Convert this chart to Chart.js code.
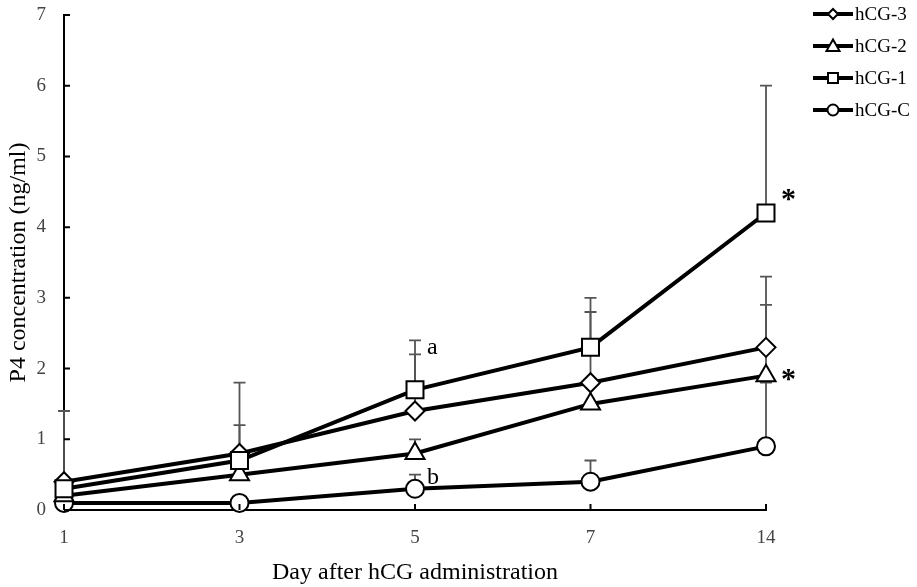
<!DOCTYPE html>
<html>
<head>
<meta charset="utf-8">
<script src="https://cdn.jsdelivr.net/npm/chart.js@4.4.1/dist/chart.umd.min.js"></script>
<style>
    html, body { margin: 0; padding: 0; background: #fff; }
    #wrap { width: 917px; height: 587px; }
</style>
</head>
<body>
<div id="wrap"><canvas id="chart"></canvas></div>
<script>
// Data
const days = ['1', '3', '5', '7', '14'];
const hcg3 = [0.4, 0.8, 1.4, 1.8, 2.3];
const hcg2 = [0.2, 0.5, 0.8, 1.5, 1.9];
const hcg1 = [0.3, 0.7, 1.7, 2.3, 4.2];
const hcgC = [0.1, 0.1, 0.3, 0.4, 0.9];

// top of each error bar (null = none visible)
const hcg3Err = [1.4, 1.2, 2.2, 2.8, 3.3];
const hcg2Err = [null, null, 1.0, null, 2.9];
const hcg1Err = [null, 1.8, 2.4, 3.0, 6.0];
const hcgCErr = [null, null, 0.5, 0.7, 1.8];

const yTicks = [0, 1, 2, 3, 4, 5, 6, 7];

// significance letters
const noteText = ['a', 'b', '*', '*'];
const noteDay = ['5', '5', '14', '14'];
const noteValue = [2.3, 0.45, 4.38, 1.84];

const serif = "'Liberation Serif', 'Times New Roman', serif";

function series(label, data, err, style, radius, order) {
    return {
        label: label,
        data: data,
        err: err,
        order: order,
        borderColor: '#000',
        borderWidth: 4,
        pointStyle: style,
        pointRadius: radius,
        pointBackgroundColor: '#fff',
        pointBorderColor: '#000',
        pointBorderWidth: 2,
        clip: false,
        tension: 0
    };
}

// error bars go under the lines
const errorBars = {
    id: 'errorBars',
    beforeDatasetsDraw(chart) {
        const ctx = chart.ctx;
        const xs = chart.scales.x, ys = chart.scales.y;
        ctx.save();
        ctx.strokeStyle = '#555';
        ctx.lineWidth = 1.8;
        chart.data.datasets.forEach(ds => {
            ds.err.forEach((top, i) => {
                if (top === null) return;
                const x = xs.getPixelForValue(i);
                const y0 = ys.getPixelForValue(ds.data[i]);
                const y1 = ys.getPixelForValue(top);
                ctx.beginPath();
                ctx.moveTo(x, y0);
                ctx.lineTo(x, y1);
                ctx.moveTo(x - 6, y1);
                ctx.lineTo(x + 6, y1);
                ctx.stroke();
            });
        });
        ctx.restore();
    }
};

// tick marks pointing into the plot
const innerTicks = {
    id: 'innerTicks',
    afterDraw(chart) {
        const ctx = chart.ctx;
        const xs = chart.scales.x, ys = chart.scales.y;
        const area = chart.chartArea;
        ctx.save();
        ctx.strokeStyle = '#000';
        ctx.lineWidth = 2;
        ctx.beginPath();
        ys.ticks.forEach((t, i) => {
            const y = ys.getPixelForTick(i);
            ctx.moveTo(area.left, y);
            ctx.lineTo(area.left + 6, y);
        });
        xs.ticks.forEach((t, i) => {
            const x = xs.getPixelForTick(i);
            ctx.moveTo(x, area.bottom);
            ctx.lineTo(x, area.bottom - 6);
        });
        ctx.stroke();
        ctx.restore();
    }
};

const notes = {
    id: 'notes',
    afterDatasetsDraw(chart) {
        const ctx = chart.ctx;
        const xs = chart.scales.x, ys = chart.scales.y;
        ctx.save();
        ctx.fillStyle = '#000';
        ctx.textBaseline = 'middle';
        ctx.textAlign = 'left';
        noteText.forEach((t, k) => {
            const x = xs.getPixelForValue(days.indexOf(noteDay[k]));
            const y = ys.getPixelForValue(noteValue[k]);
            if (t === '*') {
                ctx.font = 'bold 30px ' + serif;
                ctx.fillText(t, x + 15, y);
            } else {
                ctx.font = '24px ' + serif;
                ctx.fillText(t, x + 12, y);
            }
        });
        ctx.restore();
    }
};

function marker(ctx, style, x, y, r) {
    ctx.beginPath();
    if (style === 'circle') {
        ctx.arc(x, y, r, 0, Math.PI * 2);
    } else if (style === 'rect') {
        ctx.rect(x - r, y - r, 2 * r, 2 * r);
    } else if (style === 'rectRot') {
        ctx.moveTo(x, y - r); ctx.lineTo(x + r, y);
        ctx.lineTo(x, y + r); ctx.lineTo(x - r, y);
        ctx.closePath();
    } else {
        ctx.moveTo(x, y - r); ctx.lineTo(x + r, y + r * 0.75);
        ctx.lineTo(x - r, y + r * 0.75);
        ctx.closePath();
    }
    ctx.fill();
    ctx.stroke();
}

const legendBox = {
    id: 'legendBox',
    afterDraw(chart) {
        const ctx = chart.ctx;
        const sizes = { rectRot: 5, triangle: 6.5, rect: 5, circle: 5.5 };
        ctx.save();
        chart.data.datasets.forEach((ds, i) => {
            const y = 14 + i * 32;
            ctx.strokeStyle = '#000';
            ctx.lineWidth = 4;
            ctx.beginPath();
            ctx.moveTo(813, y);
            ctx.lineTo(853, y);
            ctx.stroke();
            ctx.fillStyle = '#fff';
            ctx.lineWidth = 2;
            marker(ctx, ds.pointStyle, 833, y, sizes[ds.pointStyle]);
            ctx.fillStyle = '#000';
            ctx.font = '19px ' + serif;
            ctx.textBaseline = 'middle';
            ctx.fillText(ds.label, 855, y + 1);
        });
        ctx.restore();
    }
};

new Chart(document.getElementById('chart'), {
    type: 'line',
    data: {
        labels: days,
        datasets: [
            series('hCG-3', hcg3, hcg3Err, 'rectRot', 9.5, 2),
            series('hCG-2', hcg2, hcg2Err, 'triangle', 11, 3),
            series('hCG-1', hcg1, hcg1Err, 'rect', 12, 1),
            series('hCG-C', hcgC, hcgCErr, 'circle', 9, 4)
        ]
    },
    options: {
        responsive: true,
        maintainAspectRatio: false,
        animation: false,
        layout: { padding: { top: 15, right: 151, left: 0, bottom: 0 } },
        plugins: {
            legend: { display: false },
            tooltip: { enabled: false }
        },
        scales: {
            x: {
                type: 'category',
                offset: false,
                afterFit: s => {
                    s.height = 77;
                    s.paddingLeft = 0; s.paddingRight = 0;
                },
                border: { color: '#000', width: 2 },
                grid: { drawOnChartArea: false, drawTicks: false },
                ticks: { padding: 17, color: '#444', font: { family: serif, size: 19 } },
                title: {
                    display: true,
                    text: 'Day after hCG administration',
                    color: '#000',
                    font: { family: serif, size: 24 },
                    padding: { top: 0, bottom: 0 }
                }
            },
            y: {
                min: 0,
                max: 7,
                afterFit: s => {
                    s.width = 64;
                    s.paddingTop = 0; s.paddingBottom = 0;
                },
                afterBuildTicks: s => { s.ticks = yTicks.map(v => ({ value: v })); },
                border: { color: '#000', width: 2 },
                grid: { drawOnChartArea: false, drawTicks: false },
                ticks: { padding: 18, color: '#444', font: { family: serif, size: 19 } },
                title: {
                    display: true,
                    text: 'P4 concentration (ng/ml)',
                    color: '#000',
                    font: { family: serif, size: 24 },
                    padding: { top: 4, bottom: 0 }
                }
            }
        }
    },
    plugins: [errorBars, innerTicks, notes, legendBox]
});
</script>
</body>
</html>
